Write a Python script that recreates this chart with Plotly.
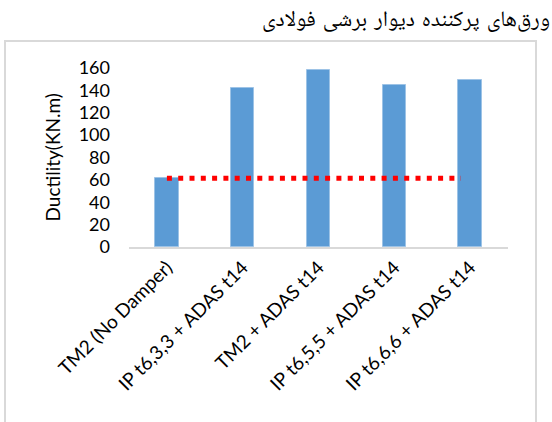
import plotly.graph_objects as go

categories = ["TM2 (No Damper)", "IP t6,3,3 + ADAS t14", "TM2 + ADAS t14",
              "IP t6,5,5 + ADAS t14", "IP t6,6,6 + ADAS t14"]
ductility = [61.5, 142.2, 158.0, 144.5, 149.0]
ref_x = [0, 3.88]
ref_y = [61.5, 61.5]
y_ticks = [0, 20, 40, 60, 80, 100, 120, 140, 160]
title_text = "ورق‌های پرکننده دیوار برشی فولادی"
y_title = "Ductility(KN.m)"

W, H = 552, 422
L, R, T, B = 129, 44, 68, 175
pw, ph = W - L - R, H - T - B

def px_x(x):
    return (x - L) / pw

def px_y(y):
    return (H - B - y) / ph

xpos = list(range(len(categories)))

fig = go.Figure()
fig.add_trace(go.Bar(
    x=xpos, y=ductility, width=0.31,
    marker=dict(color="#5b9bd5", line=dict(color="#9dc3e6", width=1)),
    showlegend=False,
))
fig.add_trace(go.Scatter(
    x=ref_x, y=ref_y, mode="lines",
    line=dict(color="#ff0000", width=5, dash="5px,6.3px"),
    showlegend=False,
))

fig.update_layout(
    width=W, height=H,
    margin=dict(l=L, r=R, t=T, b=B, autoexpand=False),
    paper_bgcolor="white", plot_bgcolor="white",
    font=dict(family="Lato, Carlito, sans-serif", size=19, color="#000000"),
    bargap=0,
    xaxis=dict(
        range=[-0.5, len(categories) - 0.5],
        tickmode="array", tickvals=xpos, ticktext=categories,
        tickangle=-45, showgrid=False, zeroline=False,
        showline=True, linecolor="#d9d9d9", linewidth=2,
        ticks="", fixedrange=True,
    ),
    yaxis=dict(
        range=[0, 160], tickmode="array", tickvals=y_ticks,
        showgrid=False, zeroline=False, showline=False,
        ticks="", ticklabelstandoff=18, tickfont=dict(size=18),
    ),
    shapes=[dict(
        type="rect", xref="paper", yref="paper",
        x0=px_x(5), x1=px_x(536), y0=px_y(440), y1=px_y(41),
        line=dict(color="#d9d9d9", width=2), fillcolor="rgba(0,0,0,0)",
        layer="below",
    )],
    annotations=[
        dict(text=title_text, xref="paper", yref="paper",
             x=px_x(552), y=px_y(19), xanchor="right", yanchor="middle",
             showarrow=False,
             font=dict(family="DejaVu Serif, Noto Naskh Arabic, serif", size=22, color="#000000")),
        dict(text=y_title, xref="paper", yref="paper",
             x=px_x(52), y=0.5, xanchor="center", yanchor="middle",
             textangle=-90, showarrow=False,
             font=dict(family="Lato, Carlito, sans-serif", size=19, color="#000000")),
    ],
)

fig.write_html("out.html", config={"displayModeBar": False},
               post_script="document.body.style.margin='0';")
